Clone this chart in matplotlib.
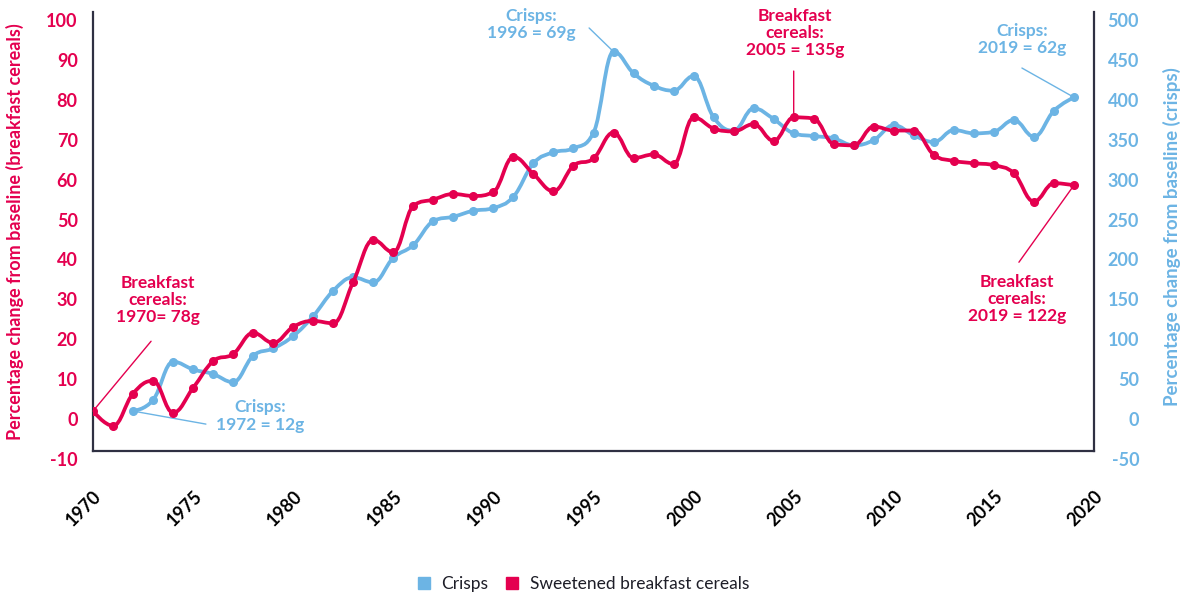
import numpy as np
import matplotlib
matplotlib.use("Agg")
import matplotlib.pyplot as plt
from matplotlib.path import Path
from matplotlib.patches import PathPatch
from matplotlib.lines import Line2D
from matplotlib.transforms import ScaledTranslation

# ---------------- data ----------------
cereal_years = list(range(1970, 2020))
cereal_values = [0, -3.7, 4.4, 7.6, -0.4, 5.8, 12.5, 14.3, 19.6, 17.1,
                 21.1, 22.6, 22.0, 32.4, 42.9, 39.8, 51.4, 53.0, 54.4, 53.9,
                 54.9, 63.7, 59.4, 55.1, 61.5, 63.3, 69.8, 63.4, 64.3, 61.9,
                 73.6, 70.8, 70.1, 71.9, 67.7, 73.6, 73.3, 66.9, 66.6, 71.3,
                 70.3, 70.3, 64.2, 62.7, 62.1, 61.6, 59.6, 52.5, 57.1, 56.6]

crisp_years = list(range(1972, 2020))
crisp_values = [0, 13.8, 61.8, 52.2, 46.4, 36.3, 69.3, 78.5, 94.0, 119.0,
                150.8, 167.5, 161.3, 192.0, 208.0, 238.0, 243.5, 251.0, 254.4, 268.6,
                310.4, 324.2, 329.2, 348.8, 450.3, 423.2, 407.7, 401.4, 419.8, 368.0,
                351.3, 379.3, 365.9, 348.0, 344.6, 341.7, 333.0, 339.6, 358.2, 345.5,
                337.1, 352.1, 348.0, 350.0, 364.7, 343.7, 376.3, 393.1]

x_ticks = [1970, 1975, 1980, 1985, 1990, 1995, 2000, 2005, 2010, 2015, 2020]
left_ticks = [-10, 0, 10, 20, 30, 40, 50, 60, 70, 80, 90, 100]
right_ticks = [-50, 0, 50, 100, 150, 200, 250, 300, 350, 400, 450, 500]

RED = "#E4004F"
BLUE = "#6CB4E4"
SPINE = "#2F3042"
TEXT = "#1E1E28"
FONT = ["Lato", "DejaVu Sans"]

plt.rcParams["font.family"] = FONT


def spline_path(xs, ys, smoothing=1.5):
    """Highcharts-like spline: cubic Bezier through every data point."""
    xs = np.asarray(xs, float)
    ys = np.asarray(ys, float)
    n = len(xs)
    denom = smoothing + 1
    lcx, lcy = xs.copy(), ys.copy()
    rcx, rcy = xs.copy(), ys.copy()
    for i in range(1, n - 1):
        px, py = xs[i], ys[i]
        lx, ly = xs[i - 1], ys[i - 1]
        nx, ny = xs[i + 1], ys[i + 1]
        lX = (smoothing * px + lx) / denom
        lY = (smoothing * py + ly) / denom
        rX = (smoothing * px + nx) / denom
        rY = (smoothing * py + ny) / denom
        if rX != lX:
            corr = ((rY - lY) * (rX - px)) / (rX - lX) + py - rY
            lY += corr
            rY += corr
        if lY > ly and lY > py:
            lY = max(ly, py)
            rY = 2 * py - lY
        elif lY < ly and lY < py:
            lY = min(ly, py)
            rY = 2 * py - lY
        if rY > ny and rY > py:
            rY = max(ny, py)
            lY = 2 * py - rY
        elif rY < ny and rY < py:
            rY = min(ny, py)
            lY = 2 * py - rY
        lcx[i], lcy[i], rcx[i], rcy[i] = lX, lY, rX, rY
    verts = [(xs[0], ys[0])]
    codes = [Path.MOVETO]
    for i in range(1, n):
        verts += [(rcx[i - 1], rcy[i - 1]), (lcx[i], lcy[i]), (xs[i], ys[i])]
        codes += [Path.CURVE4] * 3
    return Path(verts, codes)


fig = plt.figure(figsize=(11.94, 5.93), dpi=100)
ax = fig.add_axes([93 / 1194, 1 - 451 / 593, (1094 - 93) / 1194, (451 - 12) / 593])
ax2 = ax.twinx()

ax.set_xlim(1970, 2020)
ax.set_ylim(-10, 100)
ax2.set_ylim(-50, 500)

# crisps on right axis
ax2.add_patch(PathPatch(spline_path(crisp_years, crisp_values), fill=False,
                        edgecolor=BLUE, lw=2.7, capstyle="round", joinstyle="round", zorder=3))
ax2.plot(crisp_years, crisp_values, ls="none", marker="o", ms=5.5, color=BLUE, zorder=4)

# cereals on left axis (draw above crisps)
ax.set_zorder(ax2.get_zorder() + 1)
ax.patch.set_visible(False)
ax.add_patch(PathPatch(spline_path(cereal_years, cereal_values), fill=False,
                       edgecolor=RED, lw=2.7, capstyle="round", joinstyle="round", zorder=3))
ax.plot(cereal_years, cereal_values, ls="none", marker="o", ms=5.5, color=RED, zorder=4)

# spines
for a in (ax, ax2):
    a.spines["top"].set_visible(False)
    for s in ("left", "right", "bottom"):
        a.spines[s].set_color(SPINE)
        a.spines[s].set_linewidth(1.6)
ax.spines["right"].set_visible(False)
ax2.spines["left"].set_visible(False)
ax2.spines["bottom"].set_visible(False)

# ticks
ax.set_xticks(x_ticks)
ax.set_xticklabels([str(t) for t in x_ticks], rotation=45, ha="right",
                   rotation_mode="anchor", fontsize=13, color="black", fontweight="bold")
ax.tick_params(axis="x", length=0, pad=26)

ax.set_yticks(left_ticks)
ax.set_yticklabels([str(t) for t in left_ticks], fontsize=13, color=RED, fontweight="bold")
ax.tick_params(axis="y", length=0, pad=11)
ax2.set_yticks(right_ticks)
ax2.set_yticklabels([str(t) for t in right_ticks], fontsize=13, color=BLUE, fontweight="bold",
                    ha="right")
ax2.tick_params(axis="y", length=0, pad=32.5)

# shift y tick labels slightly downward as in the reference
off = ScaledTranslation(0, -8 / 100, fig.dpi_scale_trans)
for lab in ax.get_yticklabels() + ax2.get_yticklabels():
    lab.set_transform(lab.get_transform() + off)

# axis titles
fig.text(15 / 1194, 1 - 232 / 593, "Percentage change from baseline (breakfast cereals)",
         rotation=90, ha="center", va="center", color=RED, fontsize=13, fontweight="bold")
fig.text(1172 / 1194, 1 - 237 / 593, "Percentage change from baseline (crisps)",
         rotation=90, ha="center", va="center", color=BLUE, fontsize=13.5, fontweight="bold")

# annotations
ann = dict(ha="center", va="center", fontsize=12.5, fontweight="bold", linespacing=1.1)

ax.text(1973.25, 27.8, "Breakfast\ncereals:\n1970= 78g", color=RED, **ann)
ax.annotate("", xy=(1970, cereal_values[0]), xytext=(1972.9, 17.5),
            arrowprops=dict(arrowstyle="-", color=RED, lw=1, shrinkA=0, shrinkB=0))

ax2.text(1978.34, -6.3, "Crisps:\n1972 = 12g", color=BLUE, **ann)
ax2.annotate("", xy=(1972, crisp_values[0]), xytext=(1975.64, -16.3),
             arrowprops=dict(arrowstyle="-", color=BLUE, lw=1, shrinkA=0, shrinkB=0))

ax2.text(1991.88, 484.3, "Crisps:\n1996 = 69g", color=BLUE, **ann)
ax2.annotate("", xy=(1996, crisp_values[24]), xytext=(1994.78, 480),
             arrowprops=dict(arrowstyle="-", color=BLUE, lw=1, shrinkA=0, shrinkB=0))

ax.text(2005.07, 94.7, "Breakfast\ncereals:\n2005 = 135g", color=RED, **ann)
ax.annotate("", xy=(2005, cereal_values[35]), xytext=(2005, 85.2),
            arrowprops=dict(arrowstyle="-", color=RED, lw=1, shrinkA=0, shrinkB=0))

ax2.text(2016.4, 465.5, "Crisps:\n2019 = 62g", color=BLUE, **ann)
ax2.annotate("", xy=(2019, crisp_values[-1]), xytext=(2016.4, 429.8),
             arrowprops=dict(arrowstyle="-", color=BLUE, lw=1, shrinkA=0, shrinkB=0))

ax.text(2016.15, 28.1, "Breakfast\ncereals:\n2019 = 122g", color=RED, **ann)
ax.annotate("", xy=(2019, cereal_values[-1]), xytext=(2016.25, 37.3),
            arrowprops=dict(arrowstyle="-", color=RED, lw=1, shrinkA=0, shrinkB=0))

# legend
handles = [Line2D([], [], ls="none", marker="s", ms=8, color=BLUE, label="Crisps"),
           Line2D([], [], ls="none", marker="s", ms=8, color=RED, label="Sweetened breakfast cereals")]
leg = fig.legend(handles=handles, loc="center", bbox_to_anchor=(583 / 1194, 1 - 584 / 593),
                 ncol=2, frameon=False, fontsize=12.5, handlelength=0.8, handletextpad=0.6,
                 columnspacing=1.0, borderaxespad=0)
for t in leg.get_texts():
    t.set_color(TEXT)

fig.savefig("out.png", dpi=100)
